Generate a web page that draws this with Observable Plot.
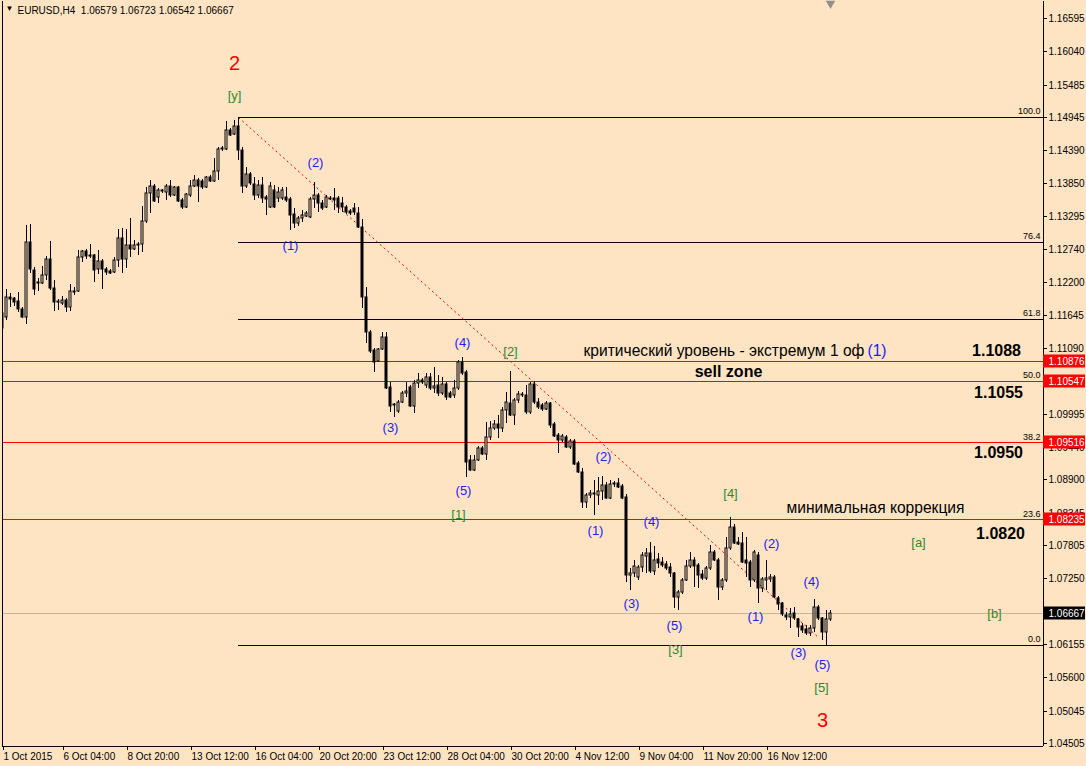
<!DOCTYPE html>
<html><head><meta charset="utf-8">
<script src="https://cdn.jsdelivr.net/npm/d3@7"></script>
<script src="https://cdn.jsdelivr.net/npm/@observablehq/plot@0.6"></script>
<style>
html,body{margin:0;padding:0;background:#ffe4c4;}
#chart{width:1086px;height:766px;overflow:hidden;}
</style></head><body><div id="chart"></div>
<script>
// ---- EURUSD H4 candles (bar index 0 = 1 Oct 2015 16:00) ----
const open = [1.1168,1.1161,1.1194,1.1193,1.1188,1.1174,1.1161,1.1286,1.1239,1.1218,
1.1218,1.1231,1.1258,1.1209,1.1186,1.1184,1.1189,1.1178,1.1203,1.1204,
1.1261,1.1271,1.1263,1.1264,1.1241,1.1254,1.1241,1.1238,1.1236,1.1256,
1.1293,1.1258,1.1281,1.1274,1.1281,1.1283,1.1321,1.1368,1.1379,1.1361,
1.1373,1.1369,1.1379,1.1364,1.1378,1.1356,1.1344,1.1364,1.1379,1.1389,
1.1388,1.1378,1.1394,1.1388,1.1404,1.1441,1.1441,1.1473,1.1466,1.1479,
1.1439,1.1379,1.1399,1.1383,1.1364,1.1381,1.1361,1.1344,1.1373,1.1359,
1.1359,1.1361,1.1358,1.1333,1.1318,1.1326,1.1329,1.1328,1.1358,1.1364,
1.1351,1.1344,1.1358,1.1359,1.1359,1.1351,1.1344,1.1338,1.1343,1.1334,
1.1311,1.1194,1.1136,1.1106,1.1087,1.1108,1.1128,1.1044,1.1014,1.1004,
1.1019,1.1034,1.1044,1.1012,1.1051,1.1056,1.1047,1.1061,1.1042,1.1047,
1.1034,1.1049,1.1034,1.1031,1.1042,1.1086,1.1069,1.0922,1.0906,1.0922,
1.0942,1.0932,1.0961,1.0976,1.0982,1.0976,1.1006,1.1017,1.0997,1.1022,
1.1032,1.1031,1.1002,1.1049,1.1019,1.1014,1.1007,1.1017,1.0982,1.0964,
1.0956,1.0961,1.0944,1.0954,1.0917,1.0902,1.0852,1.0864,1.0867,1.0864,
1.0870,1.0881,1.0859,1.0882,1.0884,1.0879,1.0860,1.0731,1.0734,1.0727,
1.0744,1.0763,1.0767,1.0737,1.0758,1.0752,1.0749,1.0744,1.0734,1.0694,
1.0702,1.0722,1.0746,1.0756,1.0747,1.0732,1.0726,1.0742,1.0769,1.0756,
1.0711,1.0722,1.0776,1.0811,1.0786,1.0784,1.0756,1.0752,1.0722,1.0764,
1.0709,1.0722,1.0724,1.0727,1.0692,1.0684,1.0664,1.0661,1.0667,1.0658,
1.0645,1.0640,1.0634,1.0642,1.0677,1.0659,1.0636,1.06579];
const high = [1.1173,1.1208,1.1201,1.1194,1.1203,1.1178,1.1314,1.1316,1.1244,1.1226,
1.1246,1.1263,1.1288,1.1223,1.1191,1.1196,1.1193,1.1216,1.1211,1.1273,
1.1273,1.1274,1.1283,1.1266,1.1273,1.1258,1.1244,1.1241,1.1261,1.1308,
1.1309,1.1308,1.1326,1.1289,1.1286,1.1346,1.1378,1.1389,1.1383,1.1376,
1.1374,1.1383,1.1389,1.1379,1.1379,1.1359,1.1368,1.1389,1.1398,1.1393,
1.1391,1.1396,1.1398,1.1426,1.1444,1.1446,1.1488,1.1476,1.1489,1.14945,
1.1444,1.1411,1.1403,1.1394,1.1389,1.1394,1.1364,1.1386,1.1381,1.1378,
1.1378,1.1378,1.1361,1.1343,1.1329,1.1339,1.1338,1.1361,1.1386,1.1368,
1.1356,1.1364,1.1363,1.1376,1.1363,1.1361,1.1348,1.1341,1.1351,1.1344,
1.1324,1.1211,1.1139,1.1109,1.1109,1.1136,1.1136,1.1052,1.1017,1.1022,
1.1037,1.1052,1.1047,1.1056,1.1067,1.1059,1.1067,1.1067,1.1077,1.1064,
1.1061,1.1052,1.1037,1.1056,1.1089,1.1094,1.1072,1.0931,1.0931,1.0946,
1.0946,1.0986,1.0987,1.0989,1.0997,1.1011,1.1036,1.1071,1.1026,1.1037,
1.1036,1.1047,1.1052,1.1054,1.1026,1.1017,1.1021,1.1019,1.0986,1.0967,
1.0966,1.0964,1.0957,1.0957,1.0921,1.0909,1.0867,1.0872,1.0889,1.0894,
1.0896,1.0885,1.0889,1.0887,1.0892,1.0882,1.0866,1.0742,1.0756,1.0747,
1.0769,1.0776,1.0786,1.0779,1.0767,1.0761,1.0754,1.0751,1.0736,1.0706,
1.0726,1.0756,1.0769,1.0761,1.0751,1.0739,1.0746,1.0781,1.0772,1.0759,
1.0726,1.0794,1.0827,1.0816,1.0794,1.0802,1.0794,1.0756,1.0772,1.0769,
1.0727,1.0756,1.0732,1.0731,1.0696,1.0686,1.0669,1.0676,1.0677,1.0659,
1.0651,1.0647,1.0647,1.0691,1.0681,1.0660,1.0672,1.06723];
const low = [1.1139,1.1156,1.1178,1.1179,1.1169,1.1159,1.1149,1.1234,1.1198,1.1204,
1.1216,1.1223,1.1206,1.1171,1.1173,1.1181,1.1169,1.1171,1.1198,1.1203,
1.1253,1.1258,1.1259,1.1219,1.1233,1.1208,1.1231,1.1233,1.1234,1.1244,
1.1234,1.1243,1.1261,1.1273,1.1264,1.1269,1.1318,1.1334,1.1353,1.1351,
1.1368,1.1356,1.1361,1.1363,1.1353,1.1341,1.1343,1.1361,1.1378,1.1353,
1.1374,1.1376,1.1386,1.1386,1.1389,1.1438,1.1439,1.1463,1.1464,1.1423,
1.1368,1.1376,1.1381,1.1356,1.1359,1.1351,1.1331,1.1343,1.1343,1.1353,
1.1356,1.1353,1.1306,1.1309,1.1313,1.1319,1.1328,1.1326,1.1343,1.1336,
1.1339,1.1343,1.1356,1.1339,1.1334,1.1336,1.1333,1.1331,1.1331,1.1309,
1.1176,1.1118,1.1101,1.1069,1.1086,1.1106,1.1041,1.1002,1.0994,1.1001,
1.1017,1.1027,1.1011,1.1001,1.1042,1.1049,1.1042,1.1039,1.1034,1.1029,
1.1031,1.1022,1.1026,1.1026,1.1039,1.1064,1.0894,1.0904,1.0904,1.0921,
1.0931,1.0922,1.0956,1.0972,1.0959,1.0969,1.0984,1.0996,1.0981,1.1017,
1.1027,1.0999,1.0999,1.1016,1.1007,1.1004,1.1006,1.0976,1.0961,1.0934,
1.0952,1.0942,1.0941,1.0914,1.0901,1.0842,1.0842,1.0859,1.0831,1.0847,
1.0856,1.0857,1.0857,1.0877,1.0876,1.0857,1.0719,1.0706,1.0727,1.0722,
1.0736,1.0734,1.0734,1.0731,1.0742,1.0744,1.0739,1.0727,1.0676,1.0672,
1.0699,1.0721,1.0742,1.0711,1.0709,1.0722,1.0722,1.0739,1.0754,1.0689,
1.0706,1.0719,1.0772,1.0782,1.0781,1.0751,1.0727,1.0711,1.0719,1.0684,
1.0702,1.0706,1.0719,1.0692,1.0672,1.0662,1.0656,1.0642,1.0656,1.0627,
1.0634,1.0631,1.0629,1.0636,1.0656,1.0622,1.0614,1.06542];
const close = [1.1143,1.1194,1.1191,1.1186,1.1174,1.1161,1.1286,1.1241,1.1208,1.1219,
1.1231,1.1258,1.1209,1.1186,1.1188,1.1189,1.1178,1.1204,1.1204,1.1261,
1.1271,1.1263,1.1264,1.1239,1.1254,1.1241,1.1236,1.1234,1.1256,1.1293,
1.1258,1.1281,1.1274,1.1281,1.1283,1.1321,1.1368,1.1379,1.1354,1.1373,
1.1371,1.1379,1.1364,1.1378,1.1354,1.1344,1.1366,1.1379,1.1389,1.1379,
1.1378,1.1394,1.1388,1.1404,1.1441,1.1443,1.1473,1.1464,1.1479,1.1439,
1.1379,1.1399,1.1384,1.1364,1.1381,1.1359,1.1358,1.1379,1.1344,1.1369,
1.1373,1.1356,1.1331,1.1318,1.1326,1.1331,1.1334,1.1358,1.1364,1.1351,
1.1343,1.1361,1.1359,1.1356,1.1344,1.1344,1.1336,1.1334,1.1336,1.1311,
1.1194,1.1136,1.1104,1.1086,1.1108,1.1128,1.1042,1.1012,1.1016,1.1019,
1.1034,1.1037,1.1012,1.1051,1.1056,1.1052,1.1061,1.1042,1.1046,1.1034,
1.1049,1.1027,1.1027,1.1042,1.1086,1.1067,1.0919,1.0906,1.0922,1.0942,
1.0932,1.0961,1.0976,1.0982,1.0976,1.1006,1.1019,1.0997,1.1022,1.1032,
1.1031,1.1002,1.1049,1.1019,1.1011,1.1007,1.1017,1.0981,1.0962,1.0956,
1.0962,1.0944,1.0954,1.0916,1.0902,1.0852,1.0864,1.0867,1.0866,1.0870,
1.0881,1.0859,1.0882,1.0884,1.0877,1.0859,1.0731,1.0734,1.0746,1.0744,
1.0764,1.0767,1.0737,1.0756,1.0751,1.0747,1.0742,1.0734,1.0694,1.0702,
1.0722,1.0746,1.0756,1.0746,1.0731,1.0726,1.0742,1.0769,1.0756,1.0711,
1.0722,1.0776,1.0811,1.0784,1.0782,1.0752,1.0751,1.0722,1.0769,1.0709,
1.0724,1.0726,1.0727,1.0694,1.0682,1.0666,1.0661,1.0666,1.0659,1.0644,
1.0639,1.0634,1.0642,1.0677,1.0659,1.0636,1.0658,1.06667];

// ---- axes ----
const timeTickIndex = [0,15,31,47,63,79,95,111,127,143,159,175,191];
const timeTickLabels = ["1 Oct 2015","6 Oct 04:00","8 Oct 20:00","13 Oct 12:00","16 Oct 04:00",
  "20 Oct 20:00","23 Oct 12:00","28 Oct 04:00","30 Oct 20:00","4 Nov 12:00","9 Nov 04:00",
  "11 Nov 20:00","16 Nov 12:00"];
const priceTicks = [1.16595,1.16040,1.15485,1.14945,1.14390,1.13850,1.13295,1.12740,1.12200,
  1.11645,1.11090,1.10545,1.09995,1.09440,1.08900,1.08345,1.07805,1.07250,1.06695,1.06155,
  1.05600,1.05045,1.04505];
const xDomain = [0, 260.25];
const yDomain = [1.04455, 1.16878];

// ---- objects ----
const fibHigh = 1.14945, fibLow = 1.0614, fibStartIndex = 59;
const fibLevels = [100, 76.4, 61.8, 50, 38.2, 23.6, 0];
const redLevels = [1.10876, 1.10547, 1.09516, 1.08235];
const bidPrice = 1.06667;
const trendLine = [{i1: 59, p1: 1.14945, i2: 204, p2: 1.0627}];

// wave labels
const blueText  = ["(2)","(1)","(4)","(3)","(5)","(2)","(1)","(4)","(3)","(5)","(2)","(1)","(4)","(3)","(5)"];
const blueIndex = [78.2, 72, 115, 97, 115.2, 150.2, 148.3, 162.2, 157.2, 168, 192.2, 188.2, 202.2, 199, 205];
const bluePrice = [1.14193,1.12809,1.11192,1.09774,1.08724,1.09291,1.08057,1.08207,1.06839,1.06473,1.07840,1.06623,1.07206,1.06022,1.05822];
const greenText  = ["[y]","[2]","[1]","[3]","[4]","[5]","[a]","[b]"];
const greenIndex = [58, 127, 114, 168.2, 182, 204.7, 229, 248];
const greenPrice = [1.15311,1.11042,1.08324,1.06072,1.08674,1.05439,1.07857,1.06673];
const redText  = ["2","3"];
const redIndex = [58, 205];
const redPrice = [1.15844, 1.04888];

// notes
const noteCritical = "критический уровень - экстремум 1 оф";
const noteCriticalWave = "(1)";
const noteSell = "sell zone";
const noteMin = "минимальная коррекция";
const levelText  = ["1.1088","1.1055","1.0950","1.0820"];
const levelIndex = [248.5, 249, 249, 249.4];
const levelPrice = [1.11058, 1.10358, 1.09358, 1.08015];
const title = "EURUSD,H4\u00a0\u00a01.06579 1.06723 1.06542 1.06667";

const bg = "#ffe4c4";
const bars = open.map((o, i) => ({i, open: o, high: high[i], low: low[i], close: close[i]}));
const fibRows = fibLevels.map(l => ({l, p: fibLow + l / 100 * (fibHigh - fibLow)}));
// fib lines that lie under a red horizontal level are hidden by it
const fibVisible = fibRows.filter(r => !redLevels.some(v => Math.abs(v - r.p) < 0.0003));
const zip = (t, x, y) => t.map((s, k) => ({s, x: x[k], y: y[k]}));
const xMax = xDomain[1];

const chart = Plot.plot({
  width: 1086, height: 766,
  marginLeft: 2, marginRight: 43, marginTop: 1, marginBottom: 20,
  x: {domain: xDomain, round: true},
  y: {domain: yDomain, round: true},
  style: {background: bg, fontFamily: "'Liberation Sans', Arial, sans-serif", fontSize: "10px", color: "black", overflow: "visible"},
  marks: [
    // fibonacci lines
    Plot.ruleY(fibVisible, {y: "p", x1: fibStartIndex, x2: xMax, stroke: "black", strokeWidth: 1}),
    // horizontal levels
    Plot.ruleY(redLevels, {stroke: "#ff0000", strokeWidth: 1}),
    Plot.ruleY([bidPrice], {stroke: "#b0b8c8", strokeWidth: 1}),
    // trend line
    Plot.link(trendLine, {x1: "i1", y1: "p1", x2: "i2", y2: "p2", stroke: "#ff0000", strokeWidth: 1, strokeDasharray: "2,3"}),
    // candles
    Plot.ruleX(bars, {x: "i", y1: "low", y2: "high", stroke: "black", strokeWidth: 1, clip: true}),
    Plot.rect(bars, {filter: d => d.close >= d.open, x1: d => d.i - 0.25, x2: d => d.i + 0.25, y1: "open", y2: "close", fill: bg, stroke: "black", strokeWidth: 1, clip: true}),
    Plot.rect(bars, {filter: d => d.close < d.open, x1: d => d.i - 0.25, x2: d => d.i + 0.25, y1: "open", y2: "close", fill: "black", stroke: "black", strokeWidth: 1, clip: true}),
    // frame
    Plot.ruleX([xDomain[0], xMax], {stroke: "black"}),
    Plot.ruleY([yDomain[0]], {stroke: "black"}),
    // axes
    Plot.axisY({anchor: "right", ticks: priceTicks, tickFormat: d => d.toFixed(5), tickSize: 3, tickPadding: 2, label: null, fontSize: 10}),
    Plot.axisX({ticks: timeTickIndex, tickFormat: d => timeTickLabels[timeTickIndex.indexOf(d)], tickSize: 4, tickPadding: 2, textAnchor: "start", dx: 1, label: null, fontSize: 10}),
    // price boxes
    Plot.rect(redLevels, {x1: xMax, x2: xMax, y1: d => d, y2: d => d, insetRight: -42, insetTop: -6.5, insetBottom: -6.5, fill: "#ff0000"}),
    Plot.rect([bidPrice], {x1: xMax, x2: xMax, y1: d => d, y2: d => d, insetRight: -42, insetTop: -6.5, insetBottom: -6.5, fill: "black"}),
    Plot.text(redLevels.concat([bidPrice]), {x: xMax, y: d => d, text: d => d.toFixed(5), fill: "white", textAnchor: "start", dx: 5, fontSize: 10}),
    // fib labels
    Plot.text(fibRows, {x: xMax, y: "p", text: d => d.l.toFixed(1), textAnchor: "end", dx: -3, dy: -6, fontSize: 9}),
    // wave labels
    Plot.text(zip(blueText, blueIndex, bluePrice), {x: "x", y: "y", text: "s", fill: "#2020ff", fontSize: 13}),
    Plot.text(zip(greenText, greenIndex, greenPrice), {x: "x", y: "y", text: "s", fill: "#2a8a2a", fontSize: 13}),
    Plot.text(zip(redText, redIndex, redPrice), {x: "x", y: "y", text: "s", fill: "#ff0000", fontSize: 20}),
    // notes
    Plot.text([noteCritical], {x: 145.25, y: 1.11058, text: d => d, textAnchor: "start", fontSize: 15.6, fill: "black"}),
    Plot.text([noteCriticalWave], {x: 216.3, y: 1.11058, text: d => d, textAnchor: "start", fontSize: 15.6, fill: "#2020ff"}),
    Plot.text([noteSell], {x: 181.5, y: 1.10708, text: d => d, fontSize: 16, fontWeight: "bold"}),
    Plot.text([noteMin], {x: 218.3, y: 1.08440, text: d => d, fontSize: 15.6}),
    Plot.text(zip(levelText, levelIndex, levelPrice), {x: "x", y: "y", text: "s", fontSize: 16, fontWeight: "bold"}),
    // header
    Plot.text([title], {frameAnchor: "top-left", text: d => d, dx: 15, dy: 5, textAnchor: "start", lineAnchor: "top", fontSize: 10}),
    Plot.text(["\u25BC"], {frameAnchor: "top-left", text: d => d, dx: 3, dy: 4, textAnchor: "start", lineAnchor: "top", fontSize: 8}),
    Plot.dot([207], {x: d => d, frameAnchor: "top", symbol: "triangle", r: 3.5, rotate: 180, fill: "#909090", stroke: "none", dy: 2})
  ]
});
document.getElementById("chart").appendChild(chart);
</script>
</body></html>
